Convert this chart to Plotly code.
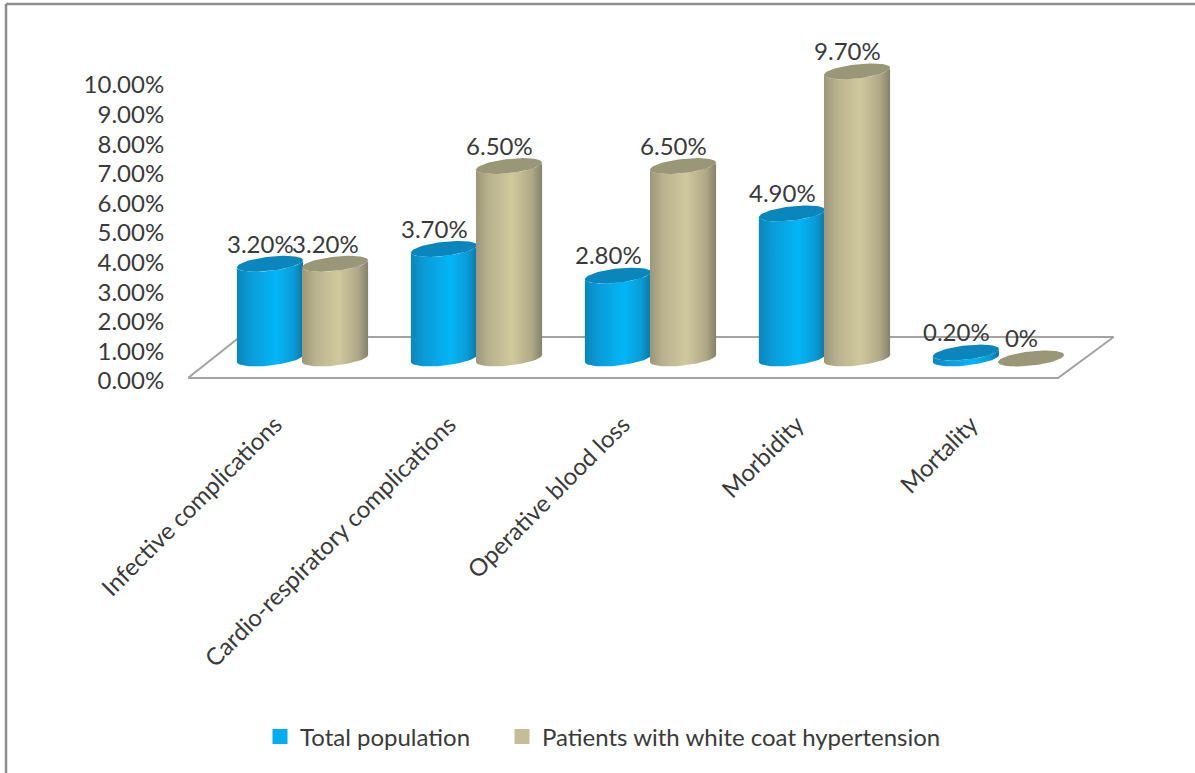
import numpy as np
import plotly.graph_objects as go

categories = ["Infective complications", "Cardio-respiratory complications",
              "Operative blood loss", "Morbidity", "Mortality"]
total_population = [3.2, 3.7, 2.8, 4.9, 0.2]
white_coat = [3.2, 6.5, 6.5, 9.7, 0.0]
y_ticks = list(range(0, 11))

FONT = "Lato"
TEXT = "#3a3a3a"
FONT_SIZE = 24
BASE = 0.66       # height of the cylinder feet above the front floor edge
RX, RY, TILT = 0.19, 0.24, 0.12  # ellipse radii and lean, in axis units

# Plot-area geometry, in page pixels
L, PW, PH = 188, 997, 384
UNIT_X, UNIT_Y = 174, 29.6
FLOOR_PX = 378

BLUE_SIDE = [[0, "#0a86bb"], [0.2, "#0a9bd8"], [0.6, "#02b6f7"], [0.85, "#0a9cd8"], [1, "#0b78a6"]]
TAN_SIDE = [[0, "#9c9778"], [0.2, "#b9b28e"], [0.55, "#d0c89d"], [0.85, "#aea888"], [1, "#85816a"]]
BLUE_TOP, TAN_TOP = "#0a86bd", "#9a9678"


def label(v):
    return f"{v:.2f}%" if v else "0%"


def add_cylinder(fig, cx, value, side, top):
    t = np.linspace(0, np.pi, 40)
    y_top = BASE + value
    # front half of the foot, then the front half of the upper rim reversed
    x_body = np.r_[cx + RX * np.cos(t), cx + RX * np.cos(t[::-1])]
    y_body = np.r_[BASE + TILT * np.cos(t) - RY * np.sin(t),
                   y_top + TILT * np.cos(t[::-1]) - RY * np.sin(t[::-1])]
    fig.add_trace(go.Scatter(
        x=x_body, y=y_body, mode="lines", line=dict(width=0), fill="toself",
        fillgradient=dict(type="horizontal", colorscale=side),
        hoverinfo="skip", showlegend=False))
    a = np.linspace(0, 2 * np.pi, 80)
    fig.add_trace(go.Scatter(
        x=cx + RX * np.cos(a), y=y_top + TILT * np.cos(a) + RY * np.sin(a),
        mode="lines", line=dict(width=0), fill="toself", fillcolor=top,
        hoverinfo="skip", showlegend=False))


fig = go.Figure()

# Floor of the chart box, drawn in perspective behind the cylinders
depth_x, depth_y = 0.32, 41 / UNIT_Y
floor_x = [-0.5, 4.5, 4.5 + depth_x, -0.5 + depth_x * 0.93, -0.5]
floor_y = [0, 0, depth_y, depth_y, 0]
fig.add_trace(go.Scatter(x=floor_x, y=floor_y, mode="lines",
                         line=dict(color="#a3a3a3", width=2), fill="toself",
                         fillcolor="white", hoverinfo="skip", showlegend=False))

for i in range(len(categories)):
    add_cylinder(fig, i - 0.029, total_population[i], BLUE_SIDE, BLUE_TOP)
    add_cylinder(fig, i + 0.345, white_coat[i], TAN_SIDE, TAN_TOP)

# Value labels above each cylinder
for offset, values in ((-0.029, total_population), (0.345, white_coat)):
    fig.add_trace(go.Scatter(
        x=[i + offset - 0.055 for i in range(len(values))],
        y=[v + BASE + 0.58 for v in values],
        mode="text", text=[label(v) for v in values], textposition="middle center",
        textfont=dict(family=FONT, size=FONT_SIZE, color=TEXT),
        hoverinfo="skip", showlegend=False))

# Legend keys, one legend box per series so each can be placed on its own
for name, colour, box in (("Total population", "#02aef0", "legend"),
                          ("Patients with white coat hypertension", "#c4bd97", "legend2")):
    fig.add_trace(go.Scatter(x=[None], y=[None], mode="markers", name=name, legend=box,
                             marker=dict(symbol="square", size=15, color=colour)))

# Outer frame along the top and left edges of the page
frame = dict(type="line", xref="paper", yref="paper", line=dict(color="#8c8c8c", width=2.5))
shapes = [
    dict(frame, x0=(6 - L) / PW, x1=(1195 - L) / PW, y0=(PH - 4) / PH, y1=(PH - 4) / PH),
    dict(frame, x0=(6 - L) / PW, x1=(6 - L) / PW, y0=(PH - 4) / PH, y1=(PH - 773) / PH),
]

legend_style = dict(orientation="h", y=(PH - 737) / PH, xanchor="left", yanchor="middle",
                    font=dict(family=FONT, size=FONT_SIZE, color=TEXT))

fig.update_layout(
    width=1195, height=773, margin=dict(l=L, r=1195 - L - PW, t=0, b=773 - PH, pad=0),
    paper_bgcolor="white", plot_bgcolor="white", shapes=shapes,
    font=dict(family=FONT, color=TEXT, size=FONT_SIZE),
    legend=dict(legend_style, x=(260 - L) / PW),
    legend2=dict(legend_style, x=(502 - L) / PW),
    xaxis=dict(range=[-0.5, -0.5 + PW / UNIT_X], tickmode="array",
               tickvals=list(range(len(categories))),
               ticktext=categories, tickangle=-45, showgrid=False, zeroline=False,
               showline=False, ticks="outside", ticklen=16, tickcolor="rgba(0,0,0,0)",
               tickfont=dict(family=FONT, size=FONT_SIZE, color=TEXT)),
    yaxis=dict(range=[(FLOOR_PX - PH) / UNIT_Y, FLOOR_PX / UNIT_Y], tickmode="array",
               tickvals=y_ticks, ticktext=[f"{v:.2f}%" for v in y_ticks],
               showgrid=False, zeroline=False, showline=False, ticks="outside",
               ticklen=18, tickcolor="rgba(0,0,0,0)", ticklabelshift=3,
               tickfont=dict(family=FONT, size=FONT_SIZE, color=TEXT)),
)

fig.write_html("out.html")
